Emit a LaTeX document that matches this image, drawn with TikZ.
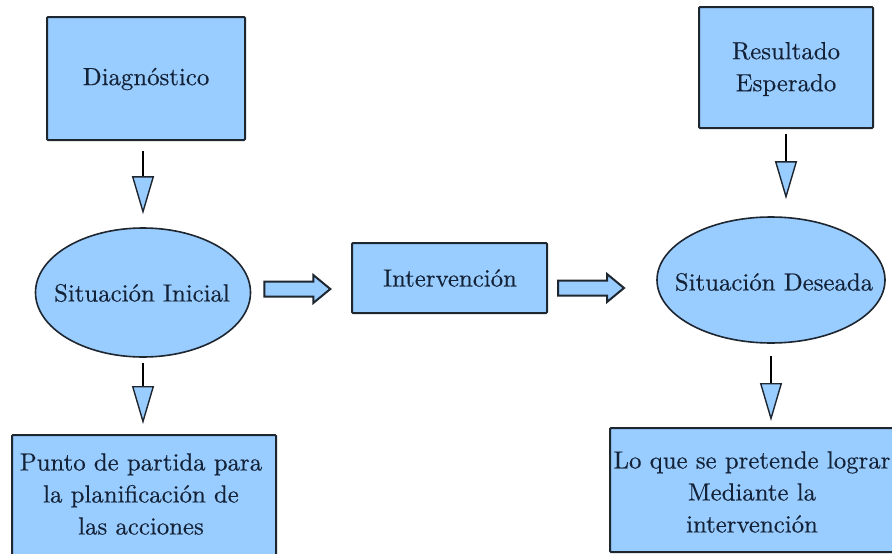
\documentclass[tikz,border=0pt]{standalone}
\usepackage{fontspec}
\newfontfamily\lmr{lmroman10-regular.otf}[FakeBold=0.4]
\usetikzlibrary{shapes.geometric,arrows.meta,calc}
\definecolor{boxblue}{HTML}{99CCFF}
\definecolor{edge}{HTML}{1E2630}
\definecolor{txt}{HTML}{142238}
\begin{document}
\begin{tikzpicture}[x=1pt,y=-1pt,
  every node/.style={font=\lmr\fontsize{24.8}{32}\selectfont, text=txt, align=center},
  box/.style={draw=edge, line width=2pt, fill=boxblue, rounded corners=1pt, inner sep=0pt},
  oval/.style={ellipse, draw=edge, line width=1.6pt, fill=boxblue, inner sep=0pt},
  downarr/.style={draw=black, line width=2pt,
    -{Triangle[width=22pt,length=38pt,line width=1.4pt,color=edge,fill=boxblue]}},
  blockarr/.pic={\draw[edge, line width=2pt, fill=boxblue, line join=miter]
    (0,-7.5) -- (49,-7.5) -- (49,-14) -- (66,0) -- (49,14) -- (49,7.5) -- (0,7.5) -- cycle;}
]
\useasboundingbox (0,0) rectangle (892,554);
\fill[white] (0,0) rectangle (892,554);

\node[box, minimum width=198pt, minimum height=123pt] (diag) at (146,78.5) {};
\node (diagt) at (146,79) {Diagnóstico};
\node[oval, minimum width=215pt, minimum height=129pt] (sini) at (143,292.5) {};
\node (sinit) at (142,293) {Situación Inicial};
\node[box, minimum width=264pt, minimum height=121pt] (punto) at (144,495.5) {};
\node (puntot) at (141,494) {Punto de partida para\\la planificación de\\las acciones};

\node[box, minimum width=195pt, minimum height=70pt] (interv) at (449.5,278) {};
\node (intervt) at (450,278) {Intervención};

\node[box, minimum width=174pt, minimum height=121pt] (result) at (786,67.5) {};
\node (resultt) at (786,69) {Resultado\\Esperado};

\node[oval, minimum width=228pt, minimum height=126pt] (sdes) at (771,280) {};
\node (sdest) at (774,282) {Situación Deseada};

\node[box, minimum width=300pt, minimum height=124pt] (logr) at (760,490) {};
\node (logrt) at (752,492) {Lo que se pretende lograr\\Mediante la\\intervención};

% vertical arrows
\draw[downarr, shorten <=10pt, shorten >=13pt] (diag.south -| sini.north) -- (sini.north);
\draw[downarr, shorten <=5pt, shorten >=10pt] (sini.south) -- (sini.south |- punto.north);
\draw[downarr, shorten <=5pt, shorten >=17pt] (result.south) -- (result.south |- sdes.north);
\draw[downarr, shorten <=12pt, shorten >=6pt] (sdes.south) -- (sdes.south |- logr.north);

% block arrows
\coordinate (b1) at ($(sini.east)+(13,-3.5)$);
\coordinate (b2) at ($(interv.east |- interv.center)+(10,10)$);
\pic at (b1) {blockarr};
\pic at (b2) {blockarr};
\end{tikzpicture}
\end{document}
